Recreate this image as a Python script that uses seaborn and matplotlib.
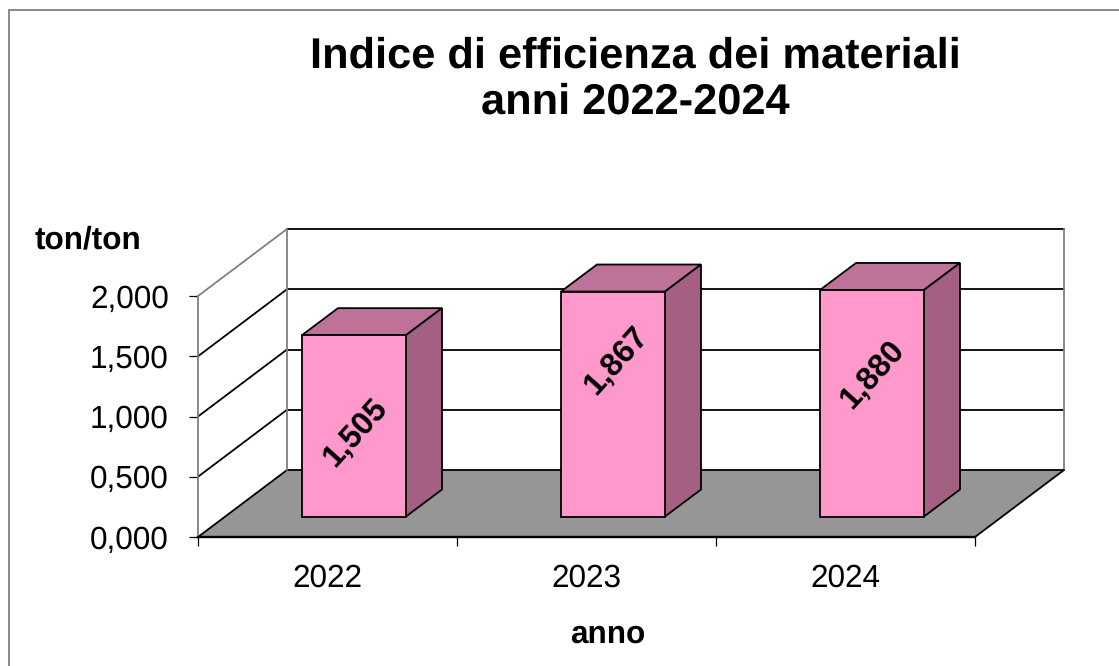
import matplotlib
matplotlib.use('Agg')
from matplotlib import pyplot as plt
from matplotlib.patches import Polygon, Rectangle
import pandas as pd
import seaborn as sns

years = ['2022', '2023', '2024']
values = [1.505, 1.867, 1.880]
value_ticks = [0.0, 0.5, 1.0, 1.5, 2.0]

W, H = 1119, 666
PINK, SIDE, TOP = '#FF99CC', '#A36083', '#BF7299'
FLOOR, GREY = '#969696', '#808080'
LW = 1.3
# value labels were placed by hand in the original, not at the middle of the bars
label_heights = [0.871, 1.469, 1.353]
label_shift_px = [2, 4, 1]

sns.set_theme(style='white')
plt.rcParams['font.family'] = ['Liberation Sans', 'DejaVu Sans']
plt.rcParams['text.hinting'] = 'no_hinting'

fig = plt.figure(figsize=(W / 100, H / 100), dpi=100, facecolor='white')
ax = fig.add_axes([198 / W, (H - 537) / H, 777 / W, 241 / H])

df = pd.DataFrame({'anno': years, 'valore': values})
# bars stand a little behind the front edge of the floor
px_x = 3 / 777   # data units per pixel, x
px_y = 2 / 241   # data units per pixel, y
bar_dx, bar_dy = 26.5 * px_x, 20.5 * px_y
depth_x, depth_y = 36 * px_x, 27 * px_y
wall_x, wall_y = 89 * px_x, 67 * px_y

sns.barplot(data=df, x='anno', y='valore', width=104 * px_x, color=PINK, saturation=1,
            bottom=bar_dy, edgecolor='black', linewidth=LW, zorder=5, ax=ax)
ax.set_xlim(-0.5, 2.5)
ax.set_ylim(0, 2)
x0, x1 = ax.get_xlim()

# floor and walls
ax.add_patch(Polygon([(x0, 0), (x1, 0), (x1 + wall_x, wall_y), (x0 + wall_x, wall_y)],
                     closed=True, fc=FLOOR, ec='none', zorder=1, clip_on=False))
for v in value_ticks:
  is_top = v == value_ticks[-1]
  ax.plot([x0, x0 + wall_x], [v, v + wall_y], color=GREY if is_top else 'black', lw=LW,
          zorder=2, clip_on=False)
  ax.plot([x0 + wall_x, x1 + wall_x], [v + wall_y, v + wall_y], color='black', lw=LW,
          zorder=2, clip_on=False)
ax.plot([x0 + wall_x, x0 + wall_x], [wall_y, 2 + wall_y], color=GREY, lw=LW, zorder=2, clip_on=False)
ax.plot([x1 + wall_x, x1 + wall_x], [wall_y, 2 + wall_y], color=GREY, lw=LW, zorder=2, clip_on=False)
ax.plot([x1, x1 + wall_x], [0, wall_y], color='black', lw=LW, zorder=2, clip_on=False)

# 3d faces of the bars, and value labels
for bar, v, h, s in zip(ax.patches[:len(values)], values, label_heights, label_shift_px):
  bar.set_x(bar.get_x() + bar_dx)
  bar.set_clip_on(False)
  l, r = bar.get_x(), bar.get_x() + bar.get_width()
  b, t = bar_dy, bar_dy + v
  ax.add_patch(Polygon([(l, t), (r, t), (r + depth_x, t + depth_y), (l + depth_x, t + depth_y)],
                       closed=True, fc=TOP, ec='black', lw=LW, zorder=4, clip_on=False))
  ax.add_patch(Polygon([(r, b), (r + depth_x, b + depth_y), (r + depth_x, t + depth_y), (r, t)],
                       closed=True, fc=SIDE, ec='black', lw=LW, zorder=4, clip_on=False))
  ax.text((l + r) / 2 + s * px_x, h, f'{v:.3f}'.replace('.', ','), rotation=48,
          rotation_mode='anchor', ha='center', va='center', fontsize=23, fontweight='bold',
          color='black', zorder=6)

sns.despine(ax=ax, top=True, right=True)
for side in ('left', 'bottom'):
  ax.spines[side].set_linewidth(LW)
  ax.spines[side].set_color('black')
  ax.spines[side].set_zorder(3)
ax.spines['left'].set_color(GREY)
ax.spines['bottom'].set_linewidth(LW + 0.4)
ax.patch.set_alpha(0)

ax.set_yticks(value_ticks, [f'{v:.3f}'.replace('.', ',') for v in value_ticks])
ax.set_xticks(range(len(years)), years)
ax.set_xticks([-0.5, 0.5, 1.5, 2.5], minor=True)
ax.tick_params(axis='y', which='major', left=True, length=6.5, width=0.9, color='black',
               pad=14.5, labelsize=22.7, labelcolor='black')
ax.tick_params(axis='x', which='major', bottom=False, length=0, pad=19, labelsize=22.7,
               labelcolor='black')
ax.tick_params(axis='x', which='minor', bottom=True, length=6.5, width=0.9, color='black')

ax.set_xlabel('anno', fontsize=22.7, fontweight='bold', color='black')
ax.xaxis.set_label_coords((608 - 198) / 777, (537 - 634) / 241)
ax.xaxis.label.set_va('center')
ax.set_ylabel('ton/ton', fontsize=22.7, fontweight='bold', color='black', rotation=0,
              ha='center', va='center')
ax.yaxis.set_label_coords((88 - 198) / 777, (537 - 240) / 241)

fig.text(635 / W, 1 - 79.5 / H, 'Indice di efficienza dei materiali\nanni 2022-2024', ha='center',
         va='center', fontsize=31.2, fontweight='bold', color='black', linespacing=1.2)

# outer frame, open on the right and at the bottom
fig.add_artist(Rectangle((9 / W, -0.1), 1.2, 1.1 - 9.5 / H, transform=fig.transFigure,
                         fc='none', ec=GREY, lw=LW, zorder=-1))

fig.savefig('out.png', dpi=100)
